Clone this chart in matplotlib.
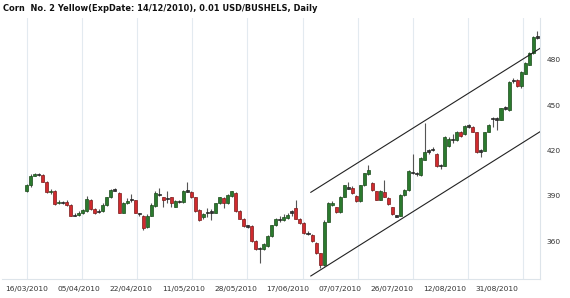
import numpy as np
import matplotlib
matplotlib.use("Agg")
import matplotlib.pyplot as plt

# dias de negociação: rótulos a cada 13 barras
date_labels = ["16/03/2010", "05/04/2010", "22/04/2010", "11/05/2010", "28/05/2010",
               "17/06/2010", "07/07/2010", "26/07/2010", "12/08/2010", "31/08/2010"]
label_step = 13

opens = [393.5, 397, 403.5, 404.5, 404, 399.5, 392.5, 393.5, 385, 386,
         386, 384, 377, 377.5, 379, 380, 387.5, 381.5, 379.5, 380,
         384, 389, 394, 392, 379, 385.5, 387.5, 387, 378.5, 377,
         369.5, 377, 383.5, 391, 389, 388, 389, 383, 386, 386,
         393, 392.5, 389, 381, 376, 379, 379, 379, 385, 388.5,
         385, 390, 392, 380, 375, 370, 370, 360, 355, 355,
         357, 363.5, 370.5, 374, 374, 375.5, 379, 382, 375, 372,
         365, 364, 359, 352, 344, 373, 384, 382.5, 379.5, 389.5,
         395, 395, 390, 386.5, 397, 404.5, 398.5, 393, 387.5, 392.5,
         388.5, 382.5, 376.5, 377, 390.5, 394, 405.5, 405, 404, 414,
         419.5, 420.5, 418, 410, 410, 423, 427, 427, 432.5, 431,
         436, 435.5, 432, 419.5, 420, 432.5, 441, 441, 440.5, 448,
         447, 466, 467, 463, 471, 477, 484.5, 495]
closes = [397, 403.5, 404.5, 404, 399.5, 392.5, 393.5, 384.5, 386, 385.5,
          384, 377, 377.5, 379, 380.5, 388, 381.5, 378.5, 380, 384,
          389, 394, 394, 379, 385, 386.5, 388, 379, 378, 369,
          377, 384, 392, 390.5, 387, 388.5, 385, 386.5, 386.5, 393,
          393.5, 389, 380, 374, 378, 379, 379.5, 385, 389, 385,
          390.5, 393, 380, 375, 370, 370, 360, 355, 355.5, 358,
          363.5, 370.5, 375, 374.5, 376, 377.5, 379.5, 375, 372, 365.5,
          365.5, 360, 352, 344, 373, 385, 385, 379.5, 389.5, 397,
          395.5, 392, 386.5, 397, 405, 407, 394, 387.5, 393.5, 389.5,
          384.5, 378, 377, 390.5, 394, 406.5, 405.5, 404.5, 415, 419,
          420, 421, 409.5, 410.5, 429, 428, 427.5, 432.5, 429.5, 436,
          436.5, 432.5, 419, 420, 432, 437, 441.5, 441, 448, 448.5,
          465.5, 466.5, 463, 472, 478, 484.5, 495, 495.5]
highs = [398, 404.5, 405.5, 405, 404.5, 400, 394.5, 394, 387, 386.5,
         387, 384.5, 378.5, 380, 381.5, 390, 388, 382, 381.5, 385,
         389.5, 394.5, 395, 392.5, 386, 388.5, 391, 387.5, 379, 377.5,
         378, 385, 393, 395, 389.5, 393, 389.5, 387, 387.5, 394,
         399, 393, 389.5, 381.5, 379, 382, 381.5, 385.5, 389.5, 389,
         391, 393.5, 392.5, 380.5, 375.5, 371, 370.5, 360.5, 356.5, 359,
         364, 371, 375.5, 377, 378, 379, 381, 387, 375.5, 372.5,
         366.5, 364.5, 359.5, 352.5, 374, 386, 386.5, 383, 390, 397.5,
         399.5, 396.5, 390.5, 397.5, 405.5, 410.5, 399, 393.5, 394, 400.5,
         389, 383, 377.5, 391, 394.5, 407, 418, 406, 415.5, 438,
         421, 422.5, 418.5, 411, 430, 429, 431, 433, 433, 437,
         437.5, 436, 432.5, 421, 432.5, 437.5, 442.5, 442, 448.5, 449.5,
         466, 468, 467.5, 472.5, 478.5, 485, 496, 499.5]
lows = [392.5, 396, 403, 403, 399, 392, 391.5, 384, 384.5, 384.5,
        383.5, 376.5, 376.5, 377, 378, 379.5, 381, 378, 378.5, 379.5,
        383.5, 388.5, 393, 378.5, 378.5, 384.5, 386, 378.5, 377, 367.5,
        369, 376.5, 383, 390, 383, 385.5, 383, 382.5, 385.5, 385.5,
        392.5, 388.5, 379.5, 373.5, 375, 376, 374, 378.5, 384.5, 382,
        384.5, 389.5, 379.5, 374.5, 369.5, 369, 359.5, 354.5, 345.5, 354.5,
        356.5, 363, 370, 373, 373.5, 375, 377, 374.5, 371.5, 365,
        364, 359.5, 351.5, 342.5, 343.5, 372.5, 383.5, 379, 379, 389,
        394.5, 391.5, 386, 386, 396.5, 404, 393.5, 387, 387, 389,
        384, 377.5, 376, 376.5, 390, 393.5, 404.5, 403.5, 403.5, 413.5,
        418, 419.5, 409, 407.5, 409.5, 422.5, 425, 426.5, 429, 430.5,
        435, 432, 418.5, 415.5, 419.5, 432, 435.5, 433.5, 440, 447,
        446.5, 465, 462, 461.5, 470.5, 476.5, 484, 494]

# canal de tendência
channel_x = [70.7, 127.7]
channel_upper = [392.4, 487.7]
channel_lower = [337.0, 432.5]

price_ticks = [360, 390, 420, 450, 480]

W, H = 570, 298
fig = plt.figure(figsize=(W / 100, H / 100), dpi=100)
ax = fig.add_axes([2 / W, 1 - 279 / H, 538 / W, 261 / H])

n = len(closes)
idx = np.arange(n)
o = np.array(opens)
c = np.array(closes)
up = c > o
flat = np.abs(c - o) < 0.75

green_face, green_edge = "#2b7a2e", "#1a4a1a"
red_face, red_edge = "#d02a2e", "#7a1a1a"

# pavios
ax.vlines(idx, lows, highs, color="#555555", linewidth=0.8, zorder=2)

# corpos
bottom = np.minimum(o, c)
height = np.abs(c - o)
face = [("#333333" if f else (green_face if u else red_face)) for u, f in zip(up, flat)]
edge = [("#222222" if f else (green_edge if u else red_edge)) for u, f in zip(up, flat)]
height = np.where(flat, 0.9, height)
bottom = np.where(flat, (o + c) / 2 - 0.45, bottom)
ax.bar(idx, height, bottom=bottom, width=0.75, color=face, edgecolor=edge,
       linewidth=0.5, zorder=3)

ax.plot(channel_x, channel_upper, color="#222222", linewidth=0.8, zorder=4)
ax.plot(channel_x, channel_lower, color="#222222", linewidth=0.8, zorder=4)

ax.set_xlim(-6.1, 127.7)
ax.set_ylim(335, 507.8)

label_pos = np.arange(len(date_labels)) * label_step
ax.set_xticks(label_pos)
ax.set_xticklabels(date_labels, fontsize=5.4, color="#333333")
# linhas de grade verticais (deslocadas dos rótulos, como no original)
for k in range(len(date_labels)):
    ax.axvline(0.05 + 13.72 * k, color="#e3eaf0", linewidth=0.8, zorder=0)

ax.yaxis.tick_right()
ax.set_yticks(price_ticks)
ax.set_yticklabels([str(p) for p in price_ticks], fontsize=5.4, color="#333333")
ax.tick_params(axis="both", length=0)
ax.tick_params(axis="x", pad=5)
ax.tick_params(axis="y", pad=5)

for s in ["left", "top"]:
    ax.spines[s].set_visible(False)
for s in ["right", "bottom"]:
    ax.spines[s].set_color("#dde4ea")
    ax.spines[s].set_linewidth(0.8)

fig.text(3 / W, 1 - 8.5 / H, "Corn  No. 2 Yellow(ExpDate: 14/12/2010), 0.01 USD/BUSHELS, Daily",
         fontsize=5.95, fontweight="bold", color="#111111", va="center", ha="left")

fig.savefig("out.png", dpi=100)
